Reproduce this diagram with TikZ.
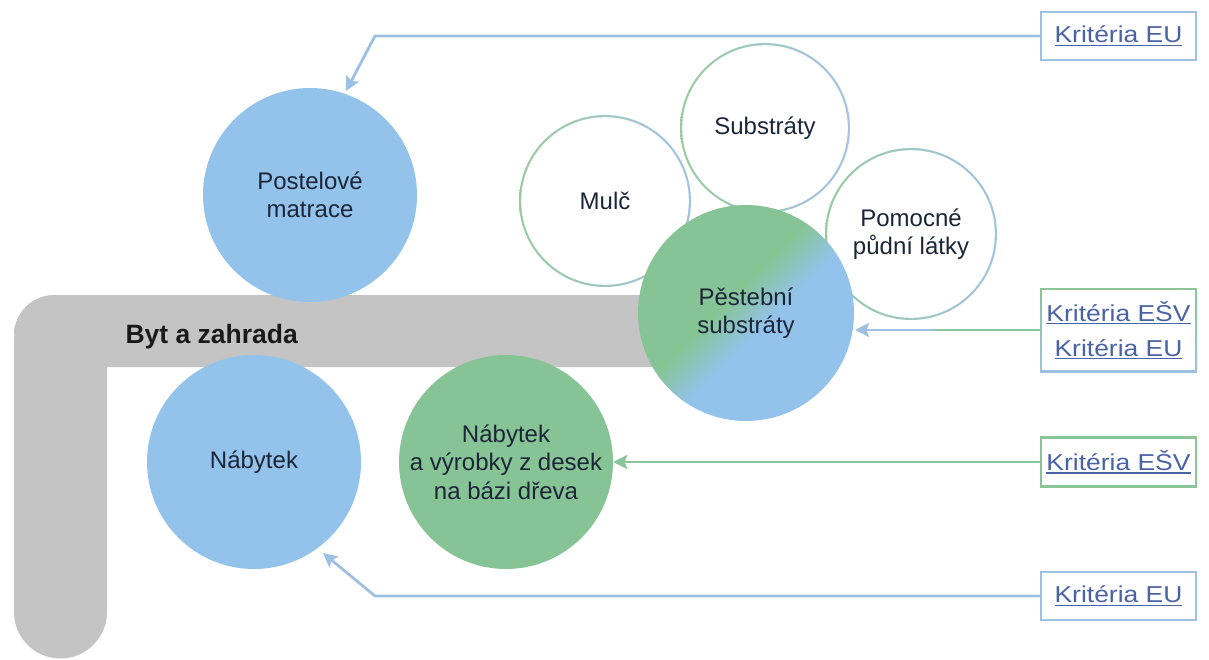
\documentclass[tikz,border=0pt]{standalone}
\usepackage{fontspec}
\setmainfont{Liberation Sans}
\newfontfamily\linkfont[FakeStretch=1.15]{Liberation Sans}
\usetikzlibrary{arrows.meta}
\definecolor{cblue}{HTML}{93C3EA}
\definecolor{cgreen}{HTML}{87C495}
\definecolor{lgray}{HTML}{C4C4C4}
\definecolor{rgreen}{HTML}{9ACB9F}
\definecolor{rblue}{HTML}{A3C3E6}
\definecolor{ablue}{HTML}{9DC0E3}
\definecolor{agreen}{HTML}{8AC597}
\definecolor{linkc}{HTML}{4A62A6}
\definecolor{txt}{HTML}{1C2538}
\pgfdeclarehorizontalshading{pestshade}{100bp}{color(0bp)=(cgreen); color(45bp)=(cgreen); color(55bp)=(cblue); color(100bp)=(cblue)}
\newcommand\linku[1]{\setbox0\hbox{#1}\rlap{\rule[-3pt]{\wd0}{1.4pt}}\box0}
\tikzset{
  cbase/.style={circle, inner sep=0pt, text=txt, align=center, font=\fontsize{24}{28.3}\selectfont},
  bcirc/.style={cbase, minimum size=214pt, fill=cblue},
  gcirc/.style={cbase, minimum size=214pt, fill=cgreen},
  ring/.style={cbase, minimum size=#1, left color=rgreen, right color=rblue,
    path picture={\fill[white] (path picture bounding box.center) circle ({#1/2-2.2pt});}},
  lbox/.style={rectangle, inner sep=0pt, minimum width=155pt, line width=2.2pt, fill=white,
    text=linkc, align=center, font=\linkfont\fontsize{23}{35}\selectfont},
  bbox/.style={lbox, draw=ablue},
  gbox/.style={lbox, draw=agreen},
  mbox/.style={rectangle, inner sep=0pt, minimum width=157pt, top color=agreen, bottom color=ablue,
    text=linkc, align=center, font=\linkfont\fontsize{23}{35}\selectfont,
    path picture={\fill[white] ([shift={(2.2pt,-2.2pt)}]path picture bounding box.north west) rectangle ([shift={(-2.2pt,2.2pt)}]path picture bounding box.south east);}},
  aline/.style={line width=2.8pt, line join=round, -{Stealth[length=14pt,width=14pt,inset=2.5pt]}},
}
\begin{document}
\begin{tikzpicture}[x=1pt,y=-1pt]
\useasboundingbox (0,0) rectangle (1209,659);
% gray L band
\fill[lgray, rounded corners=46.5pt] (14,295) rectangle (107,658.5);
\fill[lgray, rounded corners=40pt] (14,295) rectangle (700,367);
\node[anchor=base west, font=\bfseries\fontsize{26.5}{30}\selectfont, text=black!90] (byt) at (122,343) {Byt a zahrada};
% circles
\node[bcirc] (post) at (310,195) {Postelové\\matrace};
\node[bcirc] (nab) at (254,462) {Nábytek};
\node[gcirc] (desky) at (506,462) {Nábytek\\a výrobky z desek\\na bázi dřeva};
\node[ring=172pt] (mulc) at (605,201) {Mulč};
\node[ring=170pt] (subs) at (765,128) {Substráty};
\node[ring=172pt] (pom) at (911,234) {Pomocné\\půdní látky};
\node[cbase, minimum size=216pt, shade, shading=pestshade, shading angle=-45] (pest) at (746,313) {Pěstební\\substráty};
% boxes
\node[bbox, minimum height=48pt] (b1) at (1118.5,36) {\linku{Kritéria EU}};
\node[mbox, minimum height=84pt] (b2) at (1118.5,330) {\linku{Kritéria EŠV}\\\linku{Kritéria EU}};
\node[gbox, minimum height=49pt] (b3) at (1118.5,462) {\linku{Kritéria EŠV}};
\node[bbox, minimum height=48pt] (b4) at (1118.5,596) {\linku{Kritéria EU}};
% connector coordinates
\coordinate (c1) at (375,36);
\coordinate (t1) at (346,91);
\coordinate (m2) at (935,330);
\coordinate (t2) at (855,330);
\coordinate (c4) at (375,596);
\coordinate (t4) at (323,553);
% connectors
\draw[aline, draw=ablue] (b1.west) -- (c1) -- (t1);
\draw[line width=2.8pt, draw=agreen] (b2.west) -- (m2);
\draw[aline, draw=ablue] (m2) -- (t2);
\draw[aline, draw=agreen] (b3.west) -- (desky.east);
\draw[aline, draw=ablue] (b4.west) -- (c4) -- (t4);
\end{tikzpicture}
\end{document}
